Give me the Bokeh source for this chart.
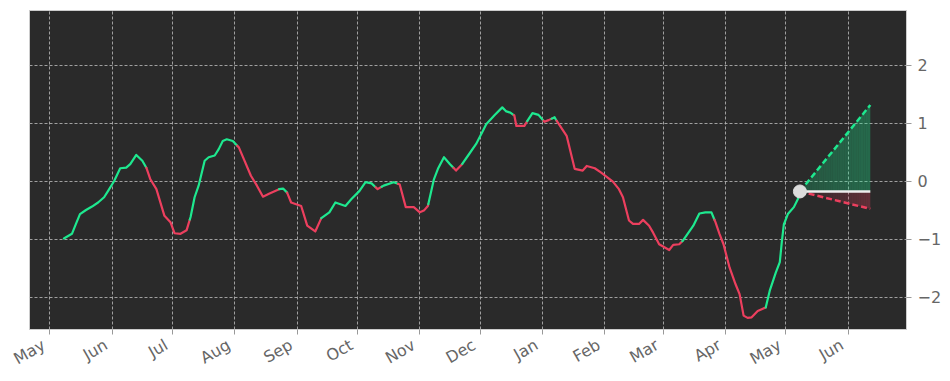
import math
import datetime as dt
import numpy as np
from bokeh.plotting import figure
from bokeh.models import FixedTicker, Range1d, DatetimeAxis
from bokeh.embed import file_html
from bokeh.resources import INLINE

# ---------------- data ----------------
START = "2023-05-01"   # day 0 of the offsets below

day_offsets = [7, 11, 13, 15, 18, 21, 24, 27, 29, 32, 35, 38, 40, 43, 46, 48, 50, 53, 57, 60,
               62, 65, 68, 70, 72, 74, 77, 79, 82, 84, 86, 88, 91, 94, 100, 103, 106, 109, 114, 116,
               118, 120, 125, 128, 132, 135, 139, 142, 147, 150, 154, 157, 160, 163, 166, 171, 174, 177, 181, 184,
               186, 188, 191, 193, 196, 199, 202, 205, 208, 212, 215, 217, 221, 225, 227, 229, 231, 232, 236, 237,
               240, 243, 246, 248, 251, 252, 257, 261, 265, 267, 271, 274, 280, 283, 285, 288, 290, 293, 295, 298,
               300, 303, 308, 310, 313, 315, 320, 323, 326, 329, 331, 333, 335, 338, 341, 343, 345, 347, 349, 352,
               354, 356, 358, 361, 363, 364, 365, 367, 370, 372, 373]
values = [-0.99, -0.91, -0.74, -0.57, -0.50, -0.44, -0.37, -0.28, -0.17, 0.00, 0.22, 0.23, 0.29, 0.45, 0.35, 0.23, 0.03, -0.14, -0.60, -0.71,
          -0.90, -0.91, -0.85, -0.62, -0.28, -0.08, 0.35, 0.41, 0.44, 0.55, 0.69, 0.72, 0.69, 0.58, 0.09, -0.08, -0.27, -0.22, -0.14, -0.13,
          -0.20, -0.37, -0.43, -0.77, -0.87, -0.64, -0.54, -0.37, -0.43, -0.31, -0.17, -0.02, -0.04, -0.14, -0.08, -0.02, -0.06, -0.45, -0.45, -0.54,
          -0.51, -0.43, 0.03, 0.21, 0.41, 0.29, 0.18, 0.29, 0.44, 0.64, 0.84, 0.98, 1.13, 1.27, 1.20, 1.18, 1.13, 0.95, 0.95, 1.01,
          1.17, 1.14, 1.02, 1.05, 1.10, 1.04, 0.78, 0.21, 0.18, 0.26, 0.22, 0.15, -0.01, -0.14, -0.28, -0.68, -0.74, -0.74, -0.67, -0.77,
          -0.89, -1.09, -1.19, -1.10, -1.09, -1.02, -0.77, -0.56, -0.54, -0.54, -0.71, -0.91, -1.09, -1.49, -1.78, -1.95, -2.32, -2.36, -2.35, -2.24,
          -2.21, -2.18, -1.89, -1.58, -1.40, -1.05, -0.75, -0.57, -0.45, -0.31, -0.18]

# days at which the line colour flips (starts green)
trend_switch_days = [48, 69.6, 93.2, 114, 118, 135, 162, 165, 173.1, 188.2, 200.7, 205.1,
                     230.7, 237.4, 245.5, 249.5, 252, 314.5, 330.5, 356]

# forecast cone
forecast_days = [373, 408]
forecast_upper = [-0.18, 1.31]
forecast_mid = [-0.18, -0.18]
forecast_lower = [-0.18, -0.48]

month_ticks = ["2023-05-01", "2023-06-01", "2023-07-01", "2023-08-01", "2023-09-01", "2023-10-01",
               "2023-11-01", "2023-12-01", "2024-01-01", "2024-02-01", "2024-03-01", "2024-04-01",
               "2024-05-01", "2024-06-01"]
month_labels = ["May", "Jun", "Jul", "Aug", "Sep", "Oct", "Nov", "Dec", "Jan", "Feb", "Mar", "Apr", "May", "Jun"]
y_ticks = [-2, -1, 0, 1, 2]
y_labels = ["\u22122", "\u22121", "0", "1", "2"]

GREEN = "#1ee88f"
RED = "#ec3f5e"
LABEL_COLOR = "#666666"
LABEL_SHIFT_DAYS = -3.0   # style: nudges rotated month labels so they end at their tick

# ---------------- helpers ----------------
EPOCH = dt.datetime(1970, 1, 1)
start_dt = dt.datetime.fromisoformat(START)


def to_ms(d):
    return (start_dt + dt.timedelta(days=float(d)) - EPOCH).total_seconds() * 1000.0


def date_ms(s, shift_days=0.0):
    return (dt.datetime.fromisoformat(s) + dt.timedelta(days=shift_days) - EPOCH).total_seconds() * 1000.0


days = np.array(day_offsets, dtype=float)
vals = np.array(values, dtype=float)

# split series into colored runs
bounds = [days[0]] + list(trend_switch_days) + [days[-1]]
xs, ys, cols = [], [], []
for k in range(len(bounds) - 1):
    a, b = bounds[k], bounds[k + 1]
    inner = [(d, v) for d, v in zip(days, vals) if a < d < b]
    pts = [(a, float(np.interp(a, days, vals)))] + inner + [(b, float(np.interp(b, days, vals)))]
    xs.append([to_ms(d) for d, _ in pts])
    ys.append([v for _, v in pts])
    cols.append(GREEN if k % 2 == 0 else RED)

p = figure(width=950, height=381, x_axis_type="datetime", y_axis_location="right",
           output_backend="svg", toolbar_location=None,
           x_range=Range1d(to_ms(-10.1), to_ms(426.0)), y_range=Range1d(-2.56, 2.94),
           min_border_left=29, min_border_top=10, min_border_right=44, min_border_bottom=52,
           background_fill_color="#2a2a2a", border_fill_color="white")
p.outline_line_color = "#cccccc"

# forecast fills (gradient strips)
N = 30
f0, f1 = forecast_days
for edge, col, a0, a1 in [(forecast_upper, GREEN, 0.22, 0.34), (forecast_lower, RED, 0.02, 0.30)]:
    px, py, al = [], [], []
    for i in range(N):
        t0 = f0 + (f1 - f0) * i / N
        t1 = f0 + (f1 - f0) * (i + 1) / N
        m0 = np.interp(t0, forecast_days, forecast_mid)
        m1 = np.interp(t1, forecast_days, forecast_mid)
        e0 = np.interp(t0, forecast_days, edge)
        e1 = np.interp(t1, forecast_days, edge)
        px.append([to_ms(t0), to_ms(t1), to_ms(t1), to_ms(t0)])
        py.append([m0, m1, e1, e0])
        al.append(a0 + (a1 - a0) * (i + 0.5) / N)
    p.patches(xs=px, ys=py, fill_color=col, fill_alpha=al, line_color=None)

fx = [to_ms(d) for d in forecast_days]
p.line(fx, forecast_upper, line_color=GREEN, line_width=2.5, line_dash="6 3")
p.line(fx, forecast_lower, line_color=RED, line_width=2.5, line_dash="6 3")
p.line(fx, forecast_mid, line_color="#eeeeee", line_width=2.5)

p.multi_line(xs=xs, ys=ys, line_color=cols, line_width=2.2, line_join="round", line_cap="round")

p.scatter([to_ms(day_offsets[-1])], [values[-1]], size=13, fill_color="#dcdcdc", line_color="#dcdcdc")

# axes: tick marks on the month starts (no labels)
tick_ms = [date_ms(s) for s in month_ticks]
p.xaxis.ticker = FixedTicker(ticks=tick_ms)
p.xaxis.major_label_overrides = {t: "" for t in tick_ms}
p.xaxis.major_label_text_font_size = "1px"
p.xaxis.major_label_standoff = 0

p.yaxis.ticker = FixedTicker(ticks=y_ticks)
p.yaxis.major_label_overrides = {t: l for t, l in zip(y_ticks, y_labels)}
p.yaxis.major_label_text_font_size = "16px"
p.yaxis.major_label_standoff = 6

for ax in (p.xaxis, p.yaxis):
    ax.axis_line_color = None
    ax.major_tick_line_color = "#999999"
    ax.major_tick_out = 5
    ax.major_tick_in = 0
    ax.minor_tick_line_color = None
    ax.major_label_text_font = "DejaVu Sans"
    ax.major_label_text_color = LABEL_COLOR

# second axis below carrying only the rotated month labels
lab_ms = [date_ms(s, LABEL_SHIFT_DAYS) for s in month_ticks]
lab_axis = DatetimeAxis(ticker=FixedTicker(ticks=lab_ms),
                        major_label_overrides={t: l for t, l in zip(lab_ms, month_labels)},
                        major_label_orientation=math.pi / 6,
                        major_label_standoff=9,
                        major_label_text_font="DejaVu Sans", major_label_text_font_size="16px",
                        major_label_text_color=LABEL_COLOR,
                        axis_line_color=None, major_tick_line_color=None, minor_tick_line_color=None,
                        major_tick_out=0, major_tick_in=0)
p.add_layout(lab_axis, "below")

p.xgrid.ticker = FixedTicker(ticks=tick_ms)
p.ygrid.ticker = FixedTicker(ticks=y_ticks)
for g in (p.xgrid, p.ygrid):
    g.grid_line_color = "#b5b5b5"
    g.grid_line_alpha = 0.85
    g.grid_line_dash = "3 2"
    g.grid_line_width = 1

open("out.html", "w").write(file_html(p, INLINE))
